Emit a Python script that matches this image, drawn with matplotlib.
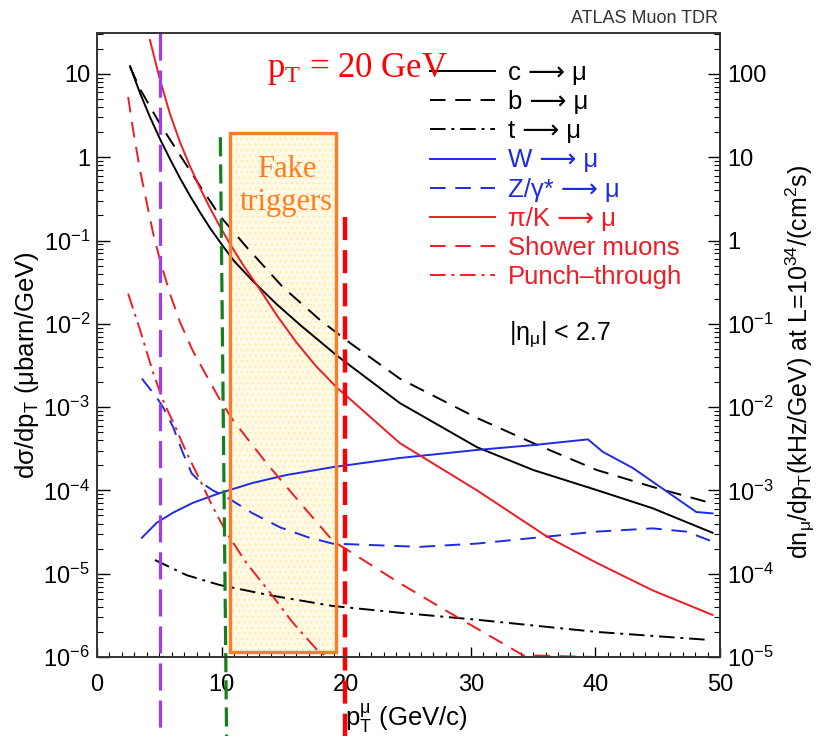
import matplotlib
matplotlib.use('Agg')
import matplotlib.pyplot as plt
import numpy as np
from matplotlib.ticker import LogLocator, FuncFormatter, MultipleLocator, NullFormatter
from matplotlib.patches import Rectangle

plt.rcParams['font.family'] = ['Liberation Sans', 'DejaVu Sans']
plt.rcParams['mathtext.fontset'] = 'custom'
plt.rcParams['mathtext.rm'] = 'Liberation Sans'
plt.rcParams['mathtext.it'] = 'Liberation Sans:italic'
plt.rcParams['hatch.linewidth'] = 0.8

# values (pT in GeV, dsigma/dpT in microbarn/GeV)
c_x = [2.65, 3.45, 4.25, 5.06, 5.9, 6.7, 7.5, 8.3, 9.1, 10.1, 11.0, 12.5, 14.4, 16.3, 19.3, 24.3, 30.5, 35.0, 40.1, 44.6, 49.4]
c_y = [12.4, 5.9, 3.04, 1.65, 0.925, 0.547, 0.337, 0.214, 0.139, 0.086, 0.0568, 0.0327, 0.0173, 9.7e-3, 4.1e-3,
       1.12e-3, 3.3e-4, 1.76e-4, 1.01e-4, 6.1e-5, 3.1e-5]

b_x = [2.65, 3.45, 5.06, 6.66, 8.27, 9.87, 12.0, 14.9, 17.9, 20.3, 24.3, 30.5, 35.0, 40.1, 44.6, 49.2]
b_y = [12.2, 6.6, 2.5, 1.06, 0.45, 0.197, 0.0835, 0.0277, 0.0111, 5.9e-3, 2.2e-3, 7.4e-4, 3.7e-4, 1.76e-4, 1.1e-4, 7.1e-5]

t_x = [4.65, 7.2, 9.87, 13.9, 18.9, 24.3, 30.5, 40.1, 49.2]
t_y = [1.46e-5, 9.6e-6, 7.3e-6, 5.5e-6, 4.1e-6, 3.4e-6, 2.8e-6, 2.0e-6, 1.6e-6]

w_x = [3.6, 4.8, 6.1, 7.7, 9.87, 12.5, 15.2, 18.9, 24.3, 30.5, 35.0, 39.4, 40.6, 43.0, 45.2, 48.1, 49.4]
w_y = [2.7e-5, 4.1e-5, 5.4e-5, 7.1e-5, 9.3e-5, 1.23e-4, 1.53e-4, 1.9e-4, 2.45e-4, 3.06e-4, 3.5e-4, 4.1e-4,
       2.9e-4, 1.86e-4, 1.1e-4, 5.5e-5, 5.3e-5]

z_x = [3.6, 4.8, 5.3, 6.1, 6.9, 7.6, 8.3, 9.3, 10.4, 12.5, 14.7, 16.9, 18.9, 25.9, 30.5, 40.1, 44.6, 47.3, 49.2]
z_y = [2.2e-3, 1.3e-3, 1.0e-3, 5.8e-4, 2.8e-4, 1.6e-4, 1.26e-4, 1.0e-4, 8.3e-5, 5.3e-5, 3.6e-5, 2.75e-5, 2.3e-5,
       2.1e-5, 2.3e-5, 3.2e-5, 3.5e-5, 3.2e-5, 2.5e-5]

pik_x = [4.25, 5.06, 5.86, 6.66, 7.46, 8.27, 9.07, 9.87, 10.7, 11.7, 13.1, 14.5, 16.0, 17.5, 19.2, 20.3, 24.3, 30.5,
         36.1, 40.1, 44.6, 49.4]
pik_y = [25.5, 8.45, 3.3, 1.52, 0.78, 0.427, 0.245, 0.147, 0.0895, 0.0515, 0.0255, 0.0122, 6.0e-3, 3.2e-3, 1.74e-3,
         1.25e-3, 3.7e-4, 1.0e-4, 2.8e-5, 1.35e-5, 6.3e-6, 3.2e-6]

shower_x = [2.5, 2.9, 3.45, 4.0, 4.5, 5.06, 5.86, 6.66, 7.7, 9.87, 10.9, 13.6, 16.3, 18.9, 24.3, 28.3, 34.2, 40.0, 49.2]
shower_y = [5.28, 2.12, 0.70, 0.282, 0.123, 0.058, 0.0228, 0.0105, 4.7e-3, 1.22e-3, 7.0e-4, 2.13e-4, 7.1e-5, 2.5e-5,
            7.7e-6, 3.4e-6, 1.05e-6, 1e-6, 1e-6]

punch_x = [2.5, 3.45, 4.5, 5.3, 6.4, 7.2, 8.27, 9.3, 10.4, 12.0, 13.9, 15.7, 17.7, 18.5, 22.0]
punch_y = [0.023, 8.5e-3, 2.6e-3, 1.2e-3, 5.3e-4, 2.8e-4, 1.33e-4, 6.3e-5, 3.1e-5, 1.34e-5, 5.9e-6, 2.6e-6, 1.2e-6,
           1e-6, 1e-6]

ARROW = '\u27f6'
labels = ['c ' + ARROW + ' μ', 'b ' + ARROW + ' μ', 't ' + ARROW + ' μ', 'W ' + ARROW + ' μ',
          'Z/γ* ' + ARROW + ' μ', 'π/K ' + ARROW + ' μ', 'Shower muons', 'Punch\u2013through']

# annotation overlay (pT positions)
purple_x = 5.06
green_x = [9.9, 10.4]
red_cut_x = 19.9
box_x = [10.67, 19.2]
box_y = [1.15e-6, 1.95]

BLACK = '#000000'
BLUE = '#1f2be0'
RED = '#ee1c24'
ORANGE = '#ff7c24'


def decade(v, pos):
    e = int(round(np.log10(v)))
    if e >= 0:
        return str(int(round(10 ** e)))
    return r'$\mathregular{10^{%d}}$' % e


fig = plt.figure(figsize=(8.17, 7.36), dpi=100)
ax = fig.add_axes([97 / 817, 79 / 736, 623 / 817, 624 / 736])

# fake-trigger box
bw = box_x[1] - box_x[0]
bh = box_y[1] - box_y[0]
ax.add_patch(Rectangle((box_x[0], box_y[0]), bw, bh, facecolor='#fffae6', edgecolor='none', zorder=0.5))
ax.add_patch(Rectangle((box_x[0], box_y[0]), bw, bh, facecolor='none', edgecolor='#ffe9a8',
                       hatch='...', linewidth=0, zorder=0.6))

lw = 1.4
ax.plot(c_x, c_y, color=BLACK, lw=lw, label=labels[0])
ax.plot(b_x, b_y, color=BLACK, lw=lw, ls=(0, (8, 5)), label=labels[1])
ax.plot(t_x, t_y, color=BLACK, lw=lw, ls=(0, (8, 3, 1.5, 3)), label=labels[2])
ax.plot(w_x, w_y, color=BLUE, lw=lw, label=labels[3])
ax.plot(z_x, z_y, color=BLUE, lw=lw, ls=(0, (8, 5)), label=labels[4])
ax.plot(pik_x, pik_y, color=RED, lw=lw, label=labels[5])
ax.plot(shower_x, shower_y, color=RED, lw=lw, ls=(0, (8, 5)), label=labels[6])
ax.plot(punch_x, punch_y, color=RED, lw=lw, ls=(0, (8, 3, 1.5, 3)), label=labels[7])

ax.add_patch(Rectangle((box_x[0], box_y[0]), bw, bh, facecolor='none', edgecolor=ORANGE,
                       linewidth=2.4, zorder=5))

# vertical markers running below the frame
tr = ax.get_xaxis_transform()
ax.plot([purple_x, purple_x], [1.0, -0.127], transform=tr, clip_on=False,
        color='#9b3df5', lw=2.3, ls=(0, (8.5, 3.1)), zorder=6)
ax.plot(green_x, [0.833, -0.127], transform=tr, clip_on=False,
        color='#15801a', lw=2.3, ls=(0, (6, 2.5)), zorder=6)
ax.plot([red_cut_x, red_cut_x], [0.705, -0.127], transform=tr, clip_on=False,
        color='#ff0000', lw=3.2, ls=(0, (5.2, 2.25)), zorder=6)

ax.set_xlim(0, 50)
ax.set_yscale('log')
ax.set_ylim(1e-6, 31)
ax.xaxis.set_major_locator(MultipleLocator(10))
ax.xaxis.set_minor_locator(MultipleLocator(1))
ax.yaxis.set_major_locator(LogLocator(base=10, numticks=20))
ax.yaxis.set_minor_locator(LogLocator(base=10, subs=np.arange(2, 10), numticks=20))
ax.yaxis.set_major_formatter(FuncFormatter(decade))
ax.yaxis.set_minor_formatter(NullFormatter())
ax.tick_params(axis='y', which='major', direction='in', length=9, width=1, labelsize=17, pad=5, right=False)
ax.tick_params(axis='y', which='minor', direction='in', length=4.5, width=0.8, right=False)
ax.tick_params(axis='x', which='major', direction='in', length=7, width=1, labelsize=17, pad=12, top=False)
ax.tick_params(axis='x', which='minor', direction='in', length=3.5, width=0.8, top=False)
for s in ax.spines.values():
    s.set_linewidth(1.2)
    s.set_color('#333333')

ax2 = ax.twinx()
ax2.set_yscale('log')
ax2.set_ylim(1e-5, 310)
ax2.yaxis.set_major_locator(LogLocator(base=10, numticks=20))
ax2.yaxis.set_minor_locator(LogLocator(base=10, subs=np.arange(2, 10), numticks=20))
ax2.yaxis.set_major_formatter(FuncFormatter(decade))
ax2.yaxis.set_minor_formatter(NullFormatter())
ax2.tick_params(axis='y', which='major', direction='in', length=9, width=1, labelsize=17, pad=5)
ax2.tick_params(axis='y', which='minor', direction='in', length=4.5, width=0.8)
for s in ax2.spines.values():
    s.set_linewidth(1.2)
    s.set_color('#333333')

leg = ax.legend(loc='upper left', bbox_to_anchor=(0.5345, 0.955), frameon=False, fontsize=18.5,
                handlelength=2.53, handletextpad=0.5, labelspacing=0.2, borderpad=0,
                borderaxespad=0, labelcolor='linecolor')

ax.text(0.661, 0.517, r'$\mathregular{|η_{μ}|}$ < 2.7', transform=ax.transAxes, fontsize=18,
        ha='left', va='center')

ax.text(15.2, 0.45, 'Fake\ntriggers', color=ORANGE, fontsize=22, family='Liberation Serif',
        ha='center', va='center', linespacing=1.15, zorder=7)

fig.text(267 / 817, (736 - 77) / 736, r'$\mathregular{p_T}$ = 20 GeV', color='#ff0000',
         fontsize=25, family='Liberation Serif', ha='left', va='baseline')
fig.text(718 / 817, (736 - 23) / 736, 'ATLAS Muon TDR', color='#333333', fontsize=13,
         ha='right', va='baseline')

fig.text(27 / 817, (736 - 365) / 736, r'd$\mathregular{σ/dp_T}$ (μbarn/GeV)', rotation=90,
         fontsize=18.5, ha='center', va='center')
fig.text(800 / 817, (736 - 362) / 736,
         r'$\mathregular{dn_{μ}/dp_T}$(kHz/GeV) at L=$\mathregular{10^{34}}$/($\mathregular{cm^2}$s)',
         rotation=90, fontsize=18, ha='center', va='center')
fig.text(406 / 817, (736 - 718) / 736, r'$\mathregular{p_T^{μ}}$ (GeV/c)', fontsize=18.5,
         ha='center', va='center')

fig.savefig('out.png', dpi=100)
